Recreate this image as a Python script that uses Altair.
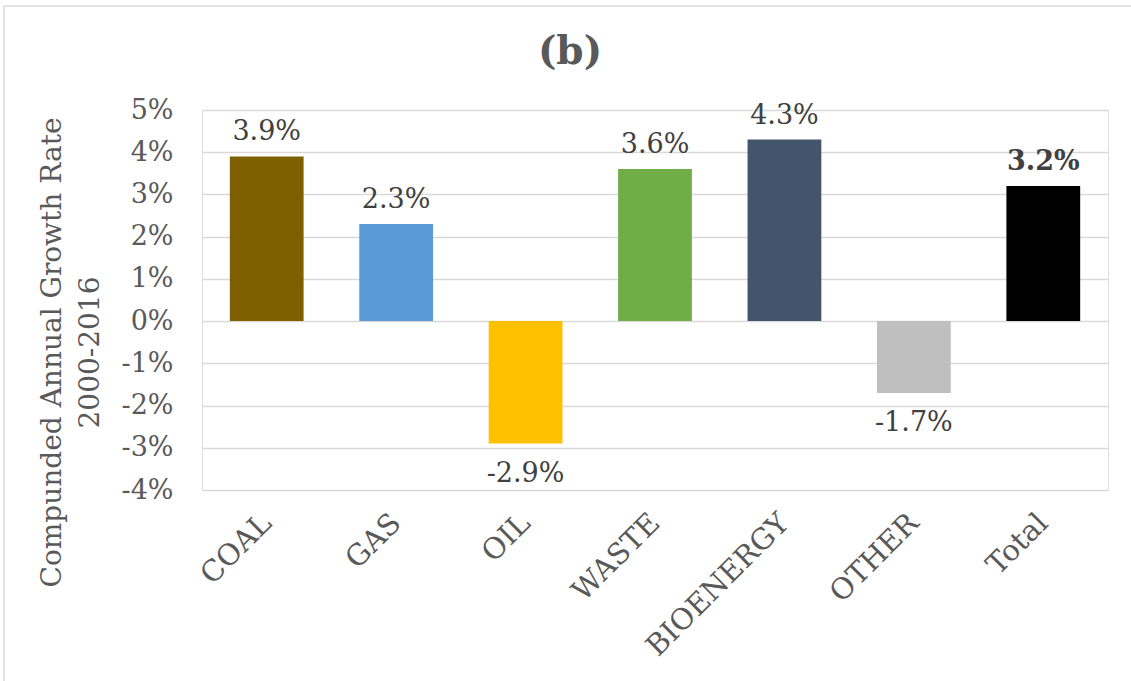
import altair as alt
import pandas as pd

# Compound annual growth rate of each source, 2000-2016 (percent)
categories = ["COAL", "GAS", "OIL", "WASTE", "BIOENERGY", "OTHER", "Total"]
growth = [3.9, 2.3, -2.9, 3.6, 4.3, -1.7, 3.2]
bar_colors = ["#7F6000", "#5B9BD5", "#FFC000", "#70AD47", "#44546A", "#BFBFBF", "#000000"]
y_ticks = [-4, -3, -2, -1, 0, 1, 2, 3, 4, 5]

df = pd.DataFrame({"source": categories, "rate": growth})
df["label"] = [f"{v:.1f}%" for v in growth]

FONT = "DejaVu Serif"
W, H = 906, 380

x_enc = alt.X(
    "source:N",
    sort=categories,
    scale=alt.Scale(paddingInner=0.43, paddingOuter=0.215),
    axis=alt.Axis(
        title=None, labelAngle=315, labelAlign="right", labelBaseline="middle",
        labelPadding=28, labelFontSize=29, labelFont=FONT, labelColor="#595959",
        labelLimit=0, domain=False, ticks=False, grid=False,
    ),
)
y_enc = alt.Y(
    "rate:Q",
    scale=alt.Scale(domain=[-4, 5], nice=False, zero=False),
    axis=alt.Axis(
        values=y_ticks, labelExpr="datum.value + '%'",
        title=["Compunded Annual Growth Rate", "2000-2016"],
        titleAngle=270, titleX=-164, titleY=242, titleAlign="center",
        titleBaseline="top", titleLineHeight=38,
        titleFont=FONT, titleFontSize=28, titleFontWeight="normal", titleColor="#595959",
        labelFont=FONT, labelFontSize=27, labelColor="#595959", labelPadding=29,
        domain=False, ticks=False, grid=True, gridColor="#D9D9D9", gridWidth=1.5,
    ),
)

# every layer shares the same x/y encodings so the axes merge cleanly
base = alt.Chart(df).encode(x=x_enc, y=y_enc)

bars = base.mark_bar().encode(
    y2=alt.datum(0),
    color=alt.Color("source:N", scale=alt.Scale(domain=categories, range=bar_colors), legend=None),
)

pos_labels = base.transform_filter(
    "datum.rate >= 0 && datum.source != 'Total'"
).mark_text(font=FONT, fontSize=27, color="#404040", baseline="bottom", dy=-10).encode(
    text="label:N"
)
neg_labels = base.transform_filter("datum.rate < 0").mark_text(
    font=FONT, fontSize=27, color="#404040", baseline="top", dy=17
).encode(text="label:N")
total_label = base.transform_filter("datum.source == 'Total'").mark_text(
    font=FONT, fontSize=27, fontWeight="bold", color="#404040", baseline="bottom", dy=-10
).encode(text="label:N")

# chart heading and the thin outer frame
one = alt.Chart(pd.DataFrame({"k": [0]}))
heading = one.mark_text(
    text="(b)", font=FONT, fontSize=39, fontWeight="bold", color="#595959", baseline="middle"
).encode(x=alt.value(368), y=alt.value(-58))
frame_top = one.mark_rule(color="#D9D9D9", strokeWidth=1.5).encode(
    x=alt.value(-198), x2=alt.value(940), y=alt.value(-104)
)
frame_left = one.mark_rule(color="#D9D9D9", strokeWidth=1.5).encode(
    x=alt.value(-198), y=alt.value(-104), y2=alt.value(600)
)

chart = alt.layer(
    bars, pos_labels, neg_labels, total_label, heading, frame_top, frame_left
).properties(
    width=W, height=H,
    autosize=alt.AutoSizeParams(type="none"),
    padding={"left": 202, "top": 110, "right": 23, "bottom": 191},
).configure_view(strokeWidth=0).configure(background="white")

chart.save("out.html", embed_options={"renderer": "svg", "actions": False})
